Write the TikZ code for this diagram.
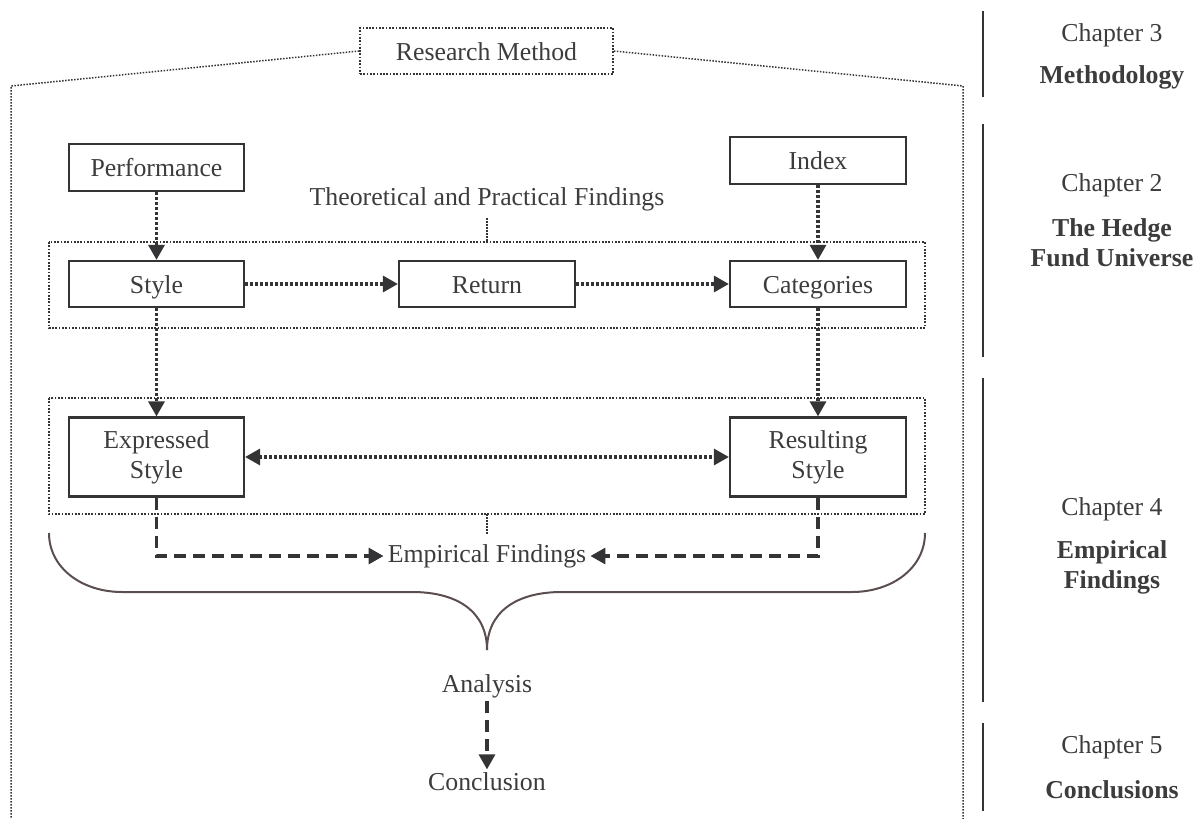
\documentclass[tikz,border=0pt]{standalone}
\usepackage{fontspec}
\setmainfont{Liberation Serif}
\usetikzlibrary{arrows.meta,calc}
\definecolor{ink}{HTML}{343436}
\definecolor{txt}{HTML}{3C3C3C}
\definecolor{bracecol}{HTML}{5A4E4E}
\tikzset{
  every node/.style={font=\fontsize{25.8}{30}\selectfont, text=txt},
  solidbox/.style={draw=ink, line width=2.2pt, inner sep=0pt, align=center},
  onebox/.style={solidbox, text height=24pt, text depth=6pt},
  dotbox/.style={draw=ink, line width=1.7pt, dash pattern=on 1.7pt off 1.6pt},
  thinline/.style={draw=ink, line width=1.5pt, dash pattern=on 1.5pt off 1.5pt},
  dotarrow/.style={draw=ink, line width=3.2pt, dash pattern=on 3pt off 2pt, -{Triangle[length=15pt,width=16pt]}},
  dotarrows/.style={draw=ink, line width=3.2pt, dash pattern=on 3pt off 2pt, {Triangle[length=15pt,width=16pt]}-{Triangle[length=15pt,width=16pt]}},
  dasharrow/.style={draw=ink, line width=3.2pt, dash pattern=on 12pt off 7pt, -{Triangle[length=15pt,width=16pt]}},
  chapline/.style={draw=ink, line width=2.2pt},
  chaptext/.style={align=center},
  braceline/.style={draw=bracecol, line width=2pt},
}
\begin{document}
\begin{tikzpicture}[x=1pt,y=-1pt]
\useasboundingbox (0,0) rectangle (1203,819);

% Research method box and outer frame
\node[dotbox, minimum width=253pt, minimum height=46pt, inner sep=0pt, text height=24pt, text depth=6pt] (rm) at (486.5,51) {Research Method};
\coordinate (ol) at (11,86);
\coordinate (olb) at (11,819);
\coordinate (or) at (963,86);
\coordinate (orb) at (963,819);
\draw[thinline] (rm.west) -- (ol) -- (olb);
\draw[thinline] (rm.east) -- (or) -- (orb);

% top boxes
\node[onebox, minimum width=175pt, minimum height=47pt] (perf) at (156.5,167.5) {Performance};
\node[onebox, minimum width=176pt, minimum height=47pt] (index) at (818,160.5) {Index};

% group 1
\node (theo) at (487,199) {Theoretical and Practical Findings};
\draw[dotbox] (49,242) rectangle (925,328);
\coordinate (g1top) at (487,242);
\draw[thinline] ($(theo.south)+(0,4)$) -- (g1top);

\node[onebox, minimum width=175pt, minimum height=46pt] (style) at (156.5,284) {Style};
\node[onebox, minimum width=176pt, minimum height=46pt] (ret) at (487,284) {Return};
\node[onebox, minimum width=176pt, minimum height=46pt] (cat) at (818,284) {Categories};

% group 2
\draw[dotbox] (49,398) rectangle (925,514);
\node[solidbox, minimum width=175pt, minimum height=79pt] (expr) at (156.5,457) {Expressed\\Style};
\node[solidbox, minimum width=176pt, minimum height=79pt] (res) at (818,457) {Resulting\\Style};

% empirical findings
\node[inner xsep=4pt] (emp) at (487,556) {Empirical Findings};
\coordinate (g2bot) at (487,514);
\coordinate (g2tick) at (487,534);
\draw[thinline] (g2bot) -- (g2tick);

% brace
\draw[braceline]
  (49,533) .. controls (49,568) and (82,592) .. (122,592)
  -- (412,592) .. controls (458,592) and (487,612) .. (487,650);
\draw[braceline]
  (487,650) .. controls (487,612) and (516,592) .. (562,592)
  -- (852,592) .. controls (892,592) and (925,568) .. (925,533);

\node (ana) at (487,686) {Analysis};
\node (concl) at (487,782) {Conclusion};

% connectors
\draw[dotarrow] (perf.south) -- (style.north);
\draw[dotarrow] (index.south) -- (cat.north);
\draw[dotarrow] (style.east) -- (ret.west);
\draw[dotarrow] (ret.east) -- (cat.west);
\draw[dotarrow] (style.south) -- (expr.north);
\draw[dotarrow] (cat.south) -- (res.north);
\draw[dotarrows] (expr.east) -- (res.west);
\draw[dasharrow] (expr.south) |- (emp.west);
\draw[dasharrow] (res.south) |- (emp.east);
\draw[dasharrow] (ana.south) -- (concl.north);

% chapter column
\coordinate (c1a) at (983,11);  \coordinate (c1b) at (983,97);
\coordinate (c2a) at (983,124); \coordinate (c2b) at (983,357);
\coordinate (c3a) at (983,378); \coordinate (c3b) at (983,702);
\coordinate (c4a) at (983,723); \coordinate (c4b) at (983,811);
\draw[chapline] (c1a) -- (c1b);
\draw[chapline] (c2a) -- (c2b);
\draw[chapline] (c3a) -- (c3b);
\draw[chapline] (c4a) -- (c4b);

\node[chaptext] (ch3) at (1112,35) {Chapter 3};
\node[chaptext] (ch3t) at (1112,77) {\bfseries Methodology};
\node[chaptext] (ch2) at (1112,185) {Chapter 2};
\node[chaptext] (ch2t) at (1112,243) {\bfseries The Hedge\\\bfseries Fund Universe};
\node[chaptext] (ch4) at (1112,509) {Chapter 4};
\node[chaptext] (ch4t) at (1112,567) {\bfseries Empirical\\\bfseries Findings};
\node[chaptext] (ch5) at (1112,747) {Chapter 5};
\node[chaptext] (ch5t) at (1112,790) {\bfseries Conclusions};
\end{tikzpicture}
\end{document}
